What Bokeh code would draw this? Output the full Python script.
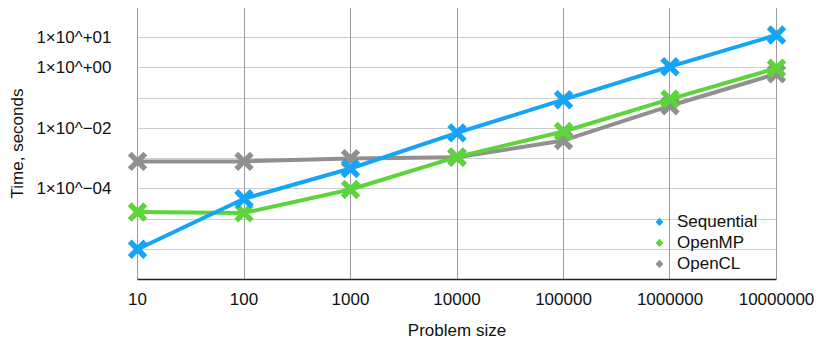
from bokeh.plotting import figure
from bokeh.models import (FixedTicker, CustomJSTickFormatter, Legend, LegendItem,
                          ColumnDataSource, BoxAnnotation)
from bokeh.embed import file_html
from bokeh.resources import INLINE

# ---- data ----
sizes = [10, 100, 1000, 10000, 100000, 1000000, 10000000]
sequential = [1.0e-6, 4.7e-5, 4.7e-4, 7.1e-3, 8.9e-2, 1.1, 12.3]
openmp = [1.7e-5, 1.6e-5, 9.5e-5, 1.14e-3, 7.9e-3, 9.3e-2, 0.98]
opencl = [8.1e-4, 8.1e-4, 1.0e-3, 1.1e-3, 4.0e-3, 5.6e-2, 0.64]

series_names = ["Sequential", "OpenMP", "OpenCL"]
series_colors = ["#14A5F6", "#5CD43A", "#909090"]

x_tick_values = [10, 100, 1000, 10000, 100000, 1000000, 10000000]
x_tick_labels = ["10", "100", "1000", "10000", "100000", "1000000", "10000000"]
y_tick_values = [10, 1, 0.01, 0.0001]
y_tick_labels = ["1×10^+01", "1×10^+00", "1×10^−02", "1×10^−04"]
y_grid_values = [1e-7, 1e-6, 1e-5, 1e-4, 1e-3, 1e-2, 1e-1, 1, 10, 100]

FONT = "Liberation Sans"

# small padding (in decades) so that the edge markers are not clipped
PAD = 0.0939
x_lo, x_hi = x_tick_values[0], x_tick_values[-1]

p = figure(width=816, height=342, x_axis_type="log", y_axis_type="log",
           x_range=(x_lo * 10 ** -PAD, x_hi * 10 ** PAD), y_range=(1e-7, 1e2),
           output_backend="svg", toolbar_location=None, title=None)
p.min_border = 0
p.min_border_left = 127
p.min_border_right = 30
p.min_border_top = 7
p.min_border_bottom = 62
p.outline_line_color = None
p.background_fill_color = "white"
p.border_fill_color = "white"

# grids
xgrid = p.xgrid[0]
ygrid = p.ygrid[0]
xgrid.ticker = FixedTicker(ticks=x_tick_values)
xgrid.grid_line_color = "#9c9c9c"
xgrid.grid_line_width = 1
ygrid.ticker = FixedTicker(ticks=y_grid_values)
ygrid.grid_line_color = "#cdcdcd"
ygrid.grid_line_width = 1

# white masks over the padding so horizontal grid lines stop at the frame
mask_l = BoxAnnotation(right=x_lo, fill_color="white", fill_alpha=1,
                       line_color=None, level="underlay")
mask_r = BoxAnnotation(left=x_hi, fill_color="white", fill_alpha=1,
                       line_color=None, level="underlay")

fmt_code = """
let best = 0, bd = Infinity;
for (let i = 0; i < vals.length; i++) {
  const d = Math.abs(Math.log10(tick) - Math.log10(vals[i]));
  if (d < bd) { bd = d; best = i; }
}
return labels[best];
"""

xa = p.xaxis[0]
xa.ticker = FixedTicker(ticks=x_tick_values)
xa.formatter = CustomJSTickFormatter(args=dict(vals=x_tick_values, labels=x_tick_labels), code=fmt_code)
xa.bounds = (x_lo, x_hi)
xa.axis_label = "Problem size"
xa.major_tick_line_color = None
xa.minor_tick_line_color = None
xa.axis_line_color = "#222222"
xa.axis_line_width = 1.5
xa.major_label_standoff = 7
xa.axis_label_standoff = 13
xa.major_label_text_font = FONT
xa.major_label_text_font_size = "17px"
xa.major_label_text_color = "#111111"
xa.axis_label_text_font = FONT
xa.axis_label_text_font_size = "17px"
xa.axis_label_text_font_style = "normal"
xa.axis_label_text_color = "#111111"

ya = p.yaxis[0]
ya.ticker = FixedTicker(ticks=y_tick_values)
ya.formatter = CustomJSTickFormatter(args=dict(vals=y_tick_values, labels=y_tick_labels), code=fmt_code)
ya.axis_label = "Time, seconds"
ya.major_tick_line_color = None
ya.minor_tick_line_color = None
ya.axis_line_color = None
ya.major_label_standoff = 10
ya.axis_label_standoff = 6
ya.major_label_text_font = FONT
ya.major_label_text_font_size = "17px"
ya.major_label_text_color = "#111111"
ya.axis_label_text_font = FONT
ya.axis_label_text_font_size = "17px"
ya.axis_label_text_font_style = "normal"
ya.axis_label_text_color = "#111111"

all_series = [sequential, openmp, opencl]
# draw in reverse so Sequential is on top
renderers = {}
for name, vals, color in reversed(list(zip(series_names, all_series, series_colors))):
    src = ColumnDataSource(dict(x=sizes, y=vals))
    p.line("x", "y", source=src, line_color=color, line_width=4)
    r = p.scatter("x", "y", source=src, marker="x", size=22, line_color=color,
                  line_width=5.5)
    renderers[name] = r

items = [LegendItem(label=name, renderers=[renderers[name]]) for name in series_names]

legend = Legend(items=items, location=(525, 5))
legend.border_line_color = None
legend.background_fill_alpha = 0
legend.padding = 0
legend.margin = 0
legend.spacing = 0
legend.glyph_width = 14
legend.glyph_height = 21
legend.label_height = 21
legend.label_standoff = 11
legend.label_text_font = FONT
legend.label_text_font_size = "17px"
legend.label_text_color = "#111111"

# order: horizontal grid, masks, vertical grid, legend
p.center = [ygrid, mask_l, mask_r, xgrid, legend]

open("out.html", "w").write(file_html(p, INLINE))
